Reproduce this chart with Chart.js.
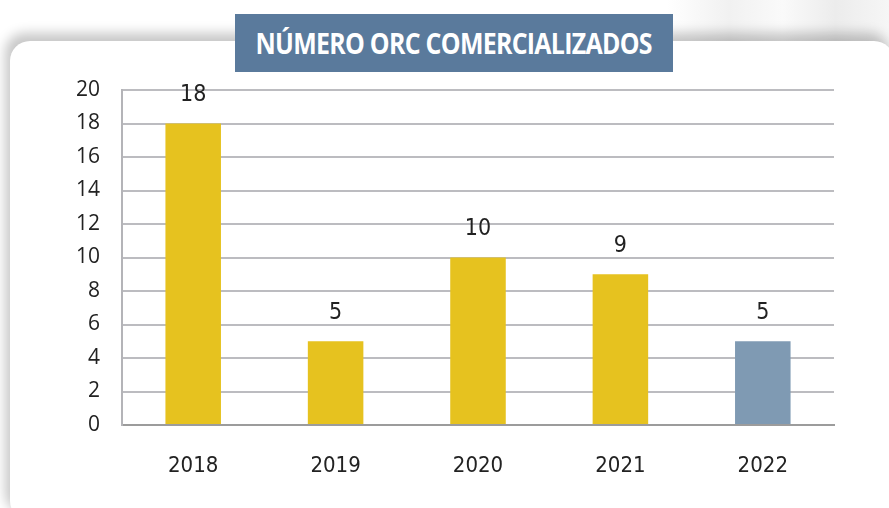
<!DOCTYPE html>
<html>
<head>
<meta charset="utf-8">
<script src="https://cdn.jsdelivr.net/npm/chart.js@4.4.0/dist/chart.umd.min.js"></script>
<style>
  html, body { margin:0; padding:0; width:889px; height:508px; overflow:hidden; background:#fff; }
  #bg { position:absolute; left:0; top:0; width:889px; height:60px;
        background: linear-gradient(90deg, #ffffff 0%, #ffffff 75%, #f1f1f1 82%, #fafafa 88%, #ececec 94%, #f6f6f6 100%); }
  #card { position:absolute; left:10px; top:41px; width:884px; height:480px; background:#fff;
          border-radius:20px; box-shadow: -5px -8px 12px rgba(0,0,0,0.22); }
  #title { position:absolute; left:235px; top:14px; width:438px; height:58px; background:#5a7a9c;
           color:#fff; display:flex; align-items:center; justify-content:center;
           font-family:"Open Sans", sans-serif; font-weight:700; font-size:28px; letter-spacing:-0.8px; z-index:3; }
  #title span { display:inline-block; transform:scaleX(0.89); white-space:nowrap; }
  canvas { position:absolute; left:0; top:0; z-index:2; }
</style>
</head>
<body>
<div id="bg"></div>
<div id="card"></div>
<div id="title"><span>NÚMERO ORC COMERCIALIZADOS</span></div>
<canvas id="c" width="889" height="508"></canvas>
<script>
const categories = ["2018", "2019", "2020", "2021", "2022"];
const values = [18, 5, 10, 9, 5];
const barColors = ["#e6c21f", "#e6c21f", "#e6c21f", "#e6c21f", "#7f9ab3"];
const yTicks = [0, 2, 4, 6, 8, 10, 12, 14, 16, 18, 20];

const condensed = '"DejaVu Sans Condensed", sans-serif';

const valueLabels = {
  id: 'valueLabels',
  afterDatasetsDraw(chart) {
    const ctx = chart.ctx;
    const meta = chart.getDatasetMeta(0);
    ctx.save();
    ctx.fillStyle = '#222';
    ctx.font = '23px ' + condensed;
    ctx.textAlign = 'center';
    ctx.textBaseline = 'middle';
    meta.data.forEach((bar, i) => {
      ctx.fillText(String(values[i]), bar.x, bar.y - 28);
    });
    ctx.restore();
  }
};

new Chart(document.getElementById('c'), {
  type: 'bar',
  data: {
    labels: categories,
    datasets: [{
      data: values,
      backgroundColor: barColors,
      borderWidth: 0,
      barPercentage: 0.39,
      categoryPercentage: 1.0
    }]
  },
  options: {
    responsive: false,
    animation: false,
    layout: { padding: { left: 0, right: 55, top: 90, bottom: 0 } },
    plugins: { legend: { display: false }, tooltip: { enabled: false } },
    scales: {
      x: {
        grid: { display: false, drawTicks: false },
        border: { display: true, color: '#9c9c9c', width: 2 },
        ticks: { color: '#222', font: { family: condensed, size: 22 }, padding: 28 },
        afterFit(s) { s.height = 83; }
      },
      y: {
        min: 0, max: 20,
        afterBuildTicks(s) { s.ticks = yTicks.map(v => ({ value: v })); },
        grid: { color: '#bcbcc0', lineWidth: 2, drawTicks: false },
        border: { display: true, color: '#b4b4b8', width: 2 },
        ticks: { color: '#222', font: { family: '"Open Sans", sans-serif', size: 21 }, padding: 22 },
        afterFit(s) { s.width = 122; }
      }
    }
  },
  plugins: [valueLabels]
});
</script>
</body>
</html>
